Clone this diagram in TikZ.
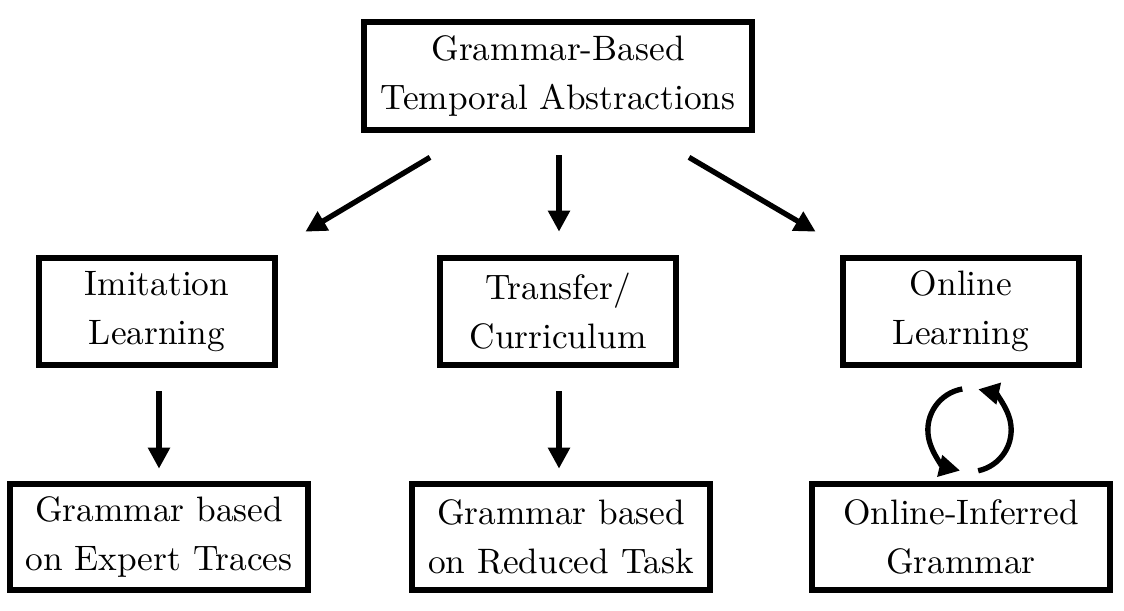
\documentclass[tikz,border=0pt]{standalone}
\usetikzlibrary{arrows.meta,calc}

\begin{document}
\begin{tikzpicture}[x=0.3pt,y=-0.3pt,
        box/.style={draw, line width=2pt, align=center, inner sep=0pt,
            font=\fontsize{10.6pt}{14.7pt}\selectfont},
        conn/.style={line width=1.6pt, -{Triangle[length=6.3pt,width=6.3pt]}}
    ]
        \useasboundingbox (0,0) rectangle (1124,610);
        \node[box, minimum width=116.4pt, minimum height=32.4pt]
            (top) at (558,76) {Grammar-Based\\Temporal Abstractions};
        \node[box, minimum width=70.8pt, minimum height=32.1pt]
            (imitation) at (157,311.5) {Imitation\\Learning};
        \node[box, minimum width=70.8pt, minimum height=32.1pt]
            (transfer) at (558,311.5) {Transfer/\\Curriculum};
        \node[box, minimum width=70.8pt, minimum height=32.1pt]
            (online) at (961,311.5) {Online\\Learning};
        \node[box, minimum width=89.4pt, minimum height=31.8pt]
            (expert) at (159,537) {Grammar based\\on Expert Traces};
        \node[box, minimum width=89.4pt, minimum height=31.8pt]
            (reduced) at (561,537) {Grammar based\\on Reduced Task};
        \node[box, minimum width=89.4pt, minimum height=31.8pt]
            (inferred) at (961,537) {Online-Inferred\\Grammar};
        \coordinate (tl) at ($(top.south)+(-128,24)$);
        \coordinate (tm) at ($(top.south)+(1,22)$);
        \coordinate (tr) at ($(top.south)+(131,24)$);
        \coordinate (il) at ($(imitation.north east)+(27,-23)$);
        \coordinate (im) at ($(transfer.north)+(1,-23)$);
        \coordinate (ir) at ($(online.north west)+(-24,-23)$);
        \coordinate (cyc) at (969.5,430);
        \draw[conn] (tl) -- (il);
        \draw[conn] (tm) -- (im);
        \draw[conn] (tr) -- (ir);
        \draw[conn] ($(imitation.south)+(2,23)$) -- ($(expert.north)+(0,-12)$);
        \draw[conn] ($(transfer.south)+(1,23)$) -- ($(reduced.north)+(-2,-12)$);
        \draw[conn] ([shift={(100:12.5pt)}]cyc) arc[start angle=100, end angle=257, radius=12.5pt];
        \draw[conn] ([shift={(-78:12.5pt)}]cyc) arc[start angle=-78, end angle=78, radius=12.5pt];
    \end{tikzpicture}
\end{document}
